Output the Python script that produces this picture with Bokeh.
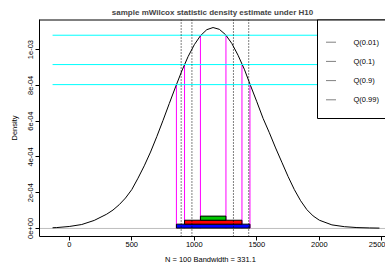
from bokeh.plotting import figure
from bokeh.models import Range1d, FixedTicker, CustomJSTickFormatter, Span, BoxAnnotation
from bokeh.core.properties import value
from bokeh.embed import file_html
from bokeh.resources import INLINE

# ---------------- data ----------------
curve_x = [-133, -100, 0, 100, 200, 300, 350, 400, 450, 500, 550, 600, 650, 700,
           750, 800, 850, 900, 950, 1000, 1050, 1100, 1150, 1200, 1250, 1300,
           1350, 1400, 1450, 1500, 1550, 1600, 1650, 1700, 1750, 1800, 1850,
           1900, 1950, 2000, 2100, 2200, 2300, 2400, 2480]
curve_y = [0.04e-4, 0.05e-4, 0.11e-4, 0.22e-4, 0.45e-4, 0.80e-4, 1.03e-4, 1.33e-4,
           1.70e-4, 2.17e-4, 2.81e-4, 3.50e-4, 4.27e-4, 5.13e-4, 6.04e-4, 6.98e-4,
           7.91e-4, 8.80e-4, 9.60e-4, 10.27e-4, 10.78e-4, 11.11e-4, 11.23e-4,
           11.13e-4, 10.83e-4, 10.34e-4, 9.68e-4, 8.90e-4, 7.98e-4, 7.08e-4,
           6.15e-4, 5.35e-4, 4.50e-4, 3.70e-4, 2.90e-4, 2.17e-4, 1.55e-4, 1.05e-4,
           0.70e-4, 0.46e-4, 0.20e-4, 0.10e-4, 0.05e-4, 0.03e-4, 0.02e-4]

hpd_levels = [8.04e-4, 9.16e-4, 1.080e-3]
hpd_lower = [857, 922, 1049]
hpd_upper = [1445, 1381, 1253]
hpd_colors = ["#0000FF", "#FF0000", "#00C800"]
bar_bottom = [0.2e-5, 2.4e-5, 4.6e-5]
bar_top = [2.4e-5, 4.6e-5, 6.9e-5]

q_labels = ["Q(0.01)", "Q(0.1)", "Q(0.9)", "Q(0.99)"]
q_values = [895, 981, 1313, 1435]

x_ticks = [0, 500, 1000, 1500, 2000, 2500]
y_ticks = [0, 2e-4, 4e-4, 6e-4, 8e-4, 1e-3]

n_obs = 100
bandwidth = 331.1
title_text = "sample mWilcox statistic density estimate under H10"

# ---------------- layout ----------------
W, H = 385, 273
BL, BR, BT, BB = 39, 0, 19, 37
FW, FH = W - BL - BR, H - BT - BB
OFF = 0  # page offset of the canvas

xmin, xmax = curve_x[0], curve_x[-1]
pad = 0.04 * (xmax - xmin)
x_start = xmin - pad
x_full_end = xmax + pad
x_end = x_start + (x_full_end - x_start) * FW / 353.0
ymax = max(curve_y)
y_start = -0.04 * ymax
y_end = ymax * 1.04
y_px = (y_end - y_start) / FH  # data units per pixel

FONT = "Liberation Sans"

p = figure(width=W, height=H, output_backend="svg", toolbar_location=None,
           x_range=Range1d(x_start, x_end), y_range=Range1d(y_start, y_end),
           min_border_left=BL, min_border_right=BR, min_border_top=BT,
           min_border_bottom=BB, title=title_text)
p.background_fill_color = "white"
p.border_fill_color = "white"
p.outline_line_color = None
p.xgrid.visible = False
p.ygrid.visible = False

p.title.align = "center"
p.title.text_font = FONT
p.title.text_font_size = "8px"
p.title.text_font_style = "bold"
p.title.standoff = 6
p.title.offset = 0

# axes
for ax in (p.xaxis[0], p.yaxis[0]):
    ax.axis_line_color = "black"
    ax.major_tick_line_color = "black"
    ax.major_tick_in = 0
    ax.major_tick_out = 4
    ax.minor_tick_line_color = None
    ax.major_label_text_font = FONT
    ax.major_label_text_font_size = "7.5px"
    ax.major_label_text_color = "black"
    ax.axis_label_text_font = FONT
    ax.axis_label_text_font_size = "7.5px"
    ax.axis_label_text_font_style = "normal"
    ax.axis_label_text_color = "black"

p.xaxis.ticker = FixedTicker(ticks=x_ticks)
p.xaxis.major_label_standoff = 1
p.xaxis.axis_label = f"N = {n_obs}   Bandwidth = {bandwidth}"
p.xaxis.axis_label_standoff = 5

p.yaxis.ticker = FixedTicker(ticks=y_ticks)
p.yaxis.formatter = CustomJSTickFormatter(code="""
const s = tick.toExponential(0);
const parts = s.split("e");
const e = parts[1];
let d = e.slice(1);
if (d.length < 2) { d = "0" + d; }
return parts[0] + "e" + e[0] + d;
""")
p.yaxis.major_label_orientation = "vertical"
p.yaxis.major_label_standoff = 2
p.yaxis.axis_label = "Density"
p.yaxis.axis_label_standoff = 7

# zero line
p.add_layout(Span(location=0, dimension="width", line_color="#BEBEBE",
                  line_width=1, level="underlay"))

# magenta drops from HPD levels
mx, my = [], []
for lv, lo, hi in zip(hpd_levels, hpd_lower, hpd_upper):
    mx += [lo, hi]
    my += [lv, lv]
p.segment(x0=mx, y0=[0] * len(mx), x1=mx, y1=my, line_color="#FF00FF", line_width=1)

# density curve
p.line(curve_x, curve_y, line_color="black", line_width=1)

# cyan HPD levels
p.segment(x0=[xmin] * 3, y0=hpd_levels, x1=[xmax] * 3, y1=hpd_levels,
          line_color="#00FFFF", line_width=1)

# HPD bars
p.quad(left=hpd_lower, right=hpd_upper, bottom=bar_bottom, top=bar_top,
       fill_color=hpd_colors, line_color="black", line_width=1)

# quantile lines
for q in q_values:
    p.add_layout(Span(location=q, dimension="height", line_color="black",
                      line_width=1, line_dash="1 2"))

# legend (manual)
def dx(wx):
    return x_start + (wx - OFF - BL) * (x_end - x_start) / FW

def dy(wy):
    return y_end - (wy - OFF - BT) * (y_end - y_start) / FH

p.add_layout(BoxAnnotation(left=dx(317), right=x_full_end, top=y_end, bottom=dy(118),
                           fill_color="white", fill_alpha=1, line_color="black",
                           line_width=1, line_alpha=1))
item_y = [dy(41.7), dy(60.9), dy(80.1), dy(99.3)]
p.segment(x0=[dx(326)] * 4, x1=[dx(336)] * 4, y0=item_y, y1=item_y,
          line_color="black", line_width=1, line_dash="1 1", level="overlay")
p.text(x=[dx(353)] * 4, y=item_y, text=q_labels, text_font=value(FONT),
       text_font_size="7.5px", text_baseline="middle", text_align="left",
       text_color="black", level="overlay")

# top edge of the plot box (the right edge lies outside the picture)
p.segment(x0=[x_start], x1=[x_full_end], y0=[y_end - 0.5 * y_px], y1=[y_end - 0.5 * y_px],
          line_color="black", line_width=1, level="overlay")

open("out.html", "w").write(file_html(p, INLINE))
